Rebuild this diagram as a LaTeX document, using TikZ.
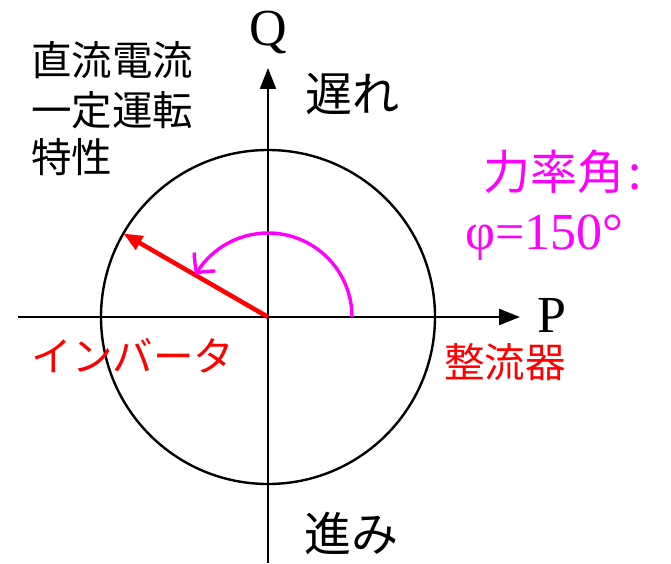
\documentclass[tikz,border=0pt]{standalone}
\usepackage{fontspec}
\setmainfont{Liberation Serif}
\newfontfamily\jp{Noto Sans CJK JP}
\usetikzlibrary{arrows.meta,bending,calc}
\definecolor{mag}{RGB}{255,0,255}
\definecolor{rd}{RGB}{255,0,0}
\begin{document}
\begin{tikzpicture}[x=1pt,y=1pt,
  lbl/.style={inner sep=0pt,outer sep=0pt},
  jpbig/.style={lbl,font=\jp\fontsize{47}{50}\selectfont},
  jpsmall/.style={lbl,font=\jp\fontsize{40.5}{44}\selectfont},
  latin/.style={lbl,font=\fontsize{52}{56}\selectfont},
  axis/.style={line width=2.4pt,-{Triangle[length=21pt,width=16pt]}}]
\useasboundingbox (0,0) rectangle (671,563);
\coordinate (O) at (268,246);
\coordinate (L) at (18,246);
\coordinate (R) at (520,246);
\coordinate (B) at (268,0);
\coordinate (T) at (268,495);
\draw[line width=2.4pt] (O) circle[radius=167];
\draw[axis] (L) -- (R);
\draw[axis] (B) -- (T);
\node[latin] (Q) at (268,530) {Q};
\node[latin] (P) at (552,248) {P};
\coordinate (V) at ($(O)+(150:167)$);
\draw[rd,line width=4.5pt,-{Triangle[length=19pt,width=15pt]}] (O) -- (V);
\coordinate (A0) at (352,246);
\draw[mag,line width=3.4pt,-{Straight Barb[length=14pt,width=28pt,bend]}] (A0) arc[start angle=0,end angle=150,radius=84];
\node[jpsmall,anchor=west] (t1) at (31,503) {直流電流};
\node[jpsmall,anchor=west] (t2) at (31,453) {一定運転};
\node[jpsmall,anchor=west] (t3) at (31,406) {特性};
\node[jpbig] (late) at (352,469) {遅れ};
\node[jpbig] (lead) at (351,30) {進み};
\node[jpbig,anchor=west,text=mag] (pf) at (483,391) {力率角\hspace{5pt}:};
\node[latin,anchor=west,text=mag] (phi) at (465,325) {φ=150°};
\node[jpsmall,text=rd] (inv) at (133,207) {インバータ};
\node[jpsmall,text=rd] (rect) at (505,201) {整流器};
\end{tikzpicture}
\end{document}
